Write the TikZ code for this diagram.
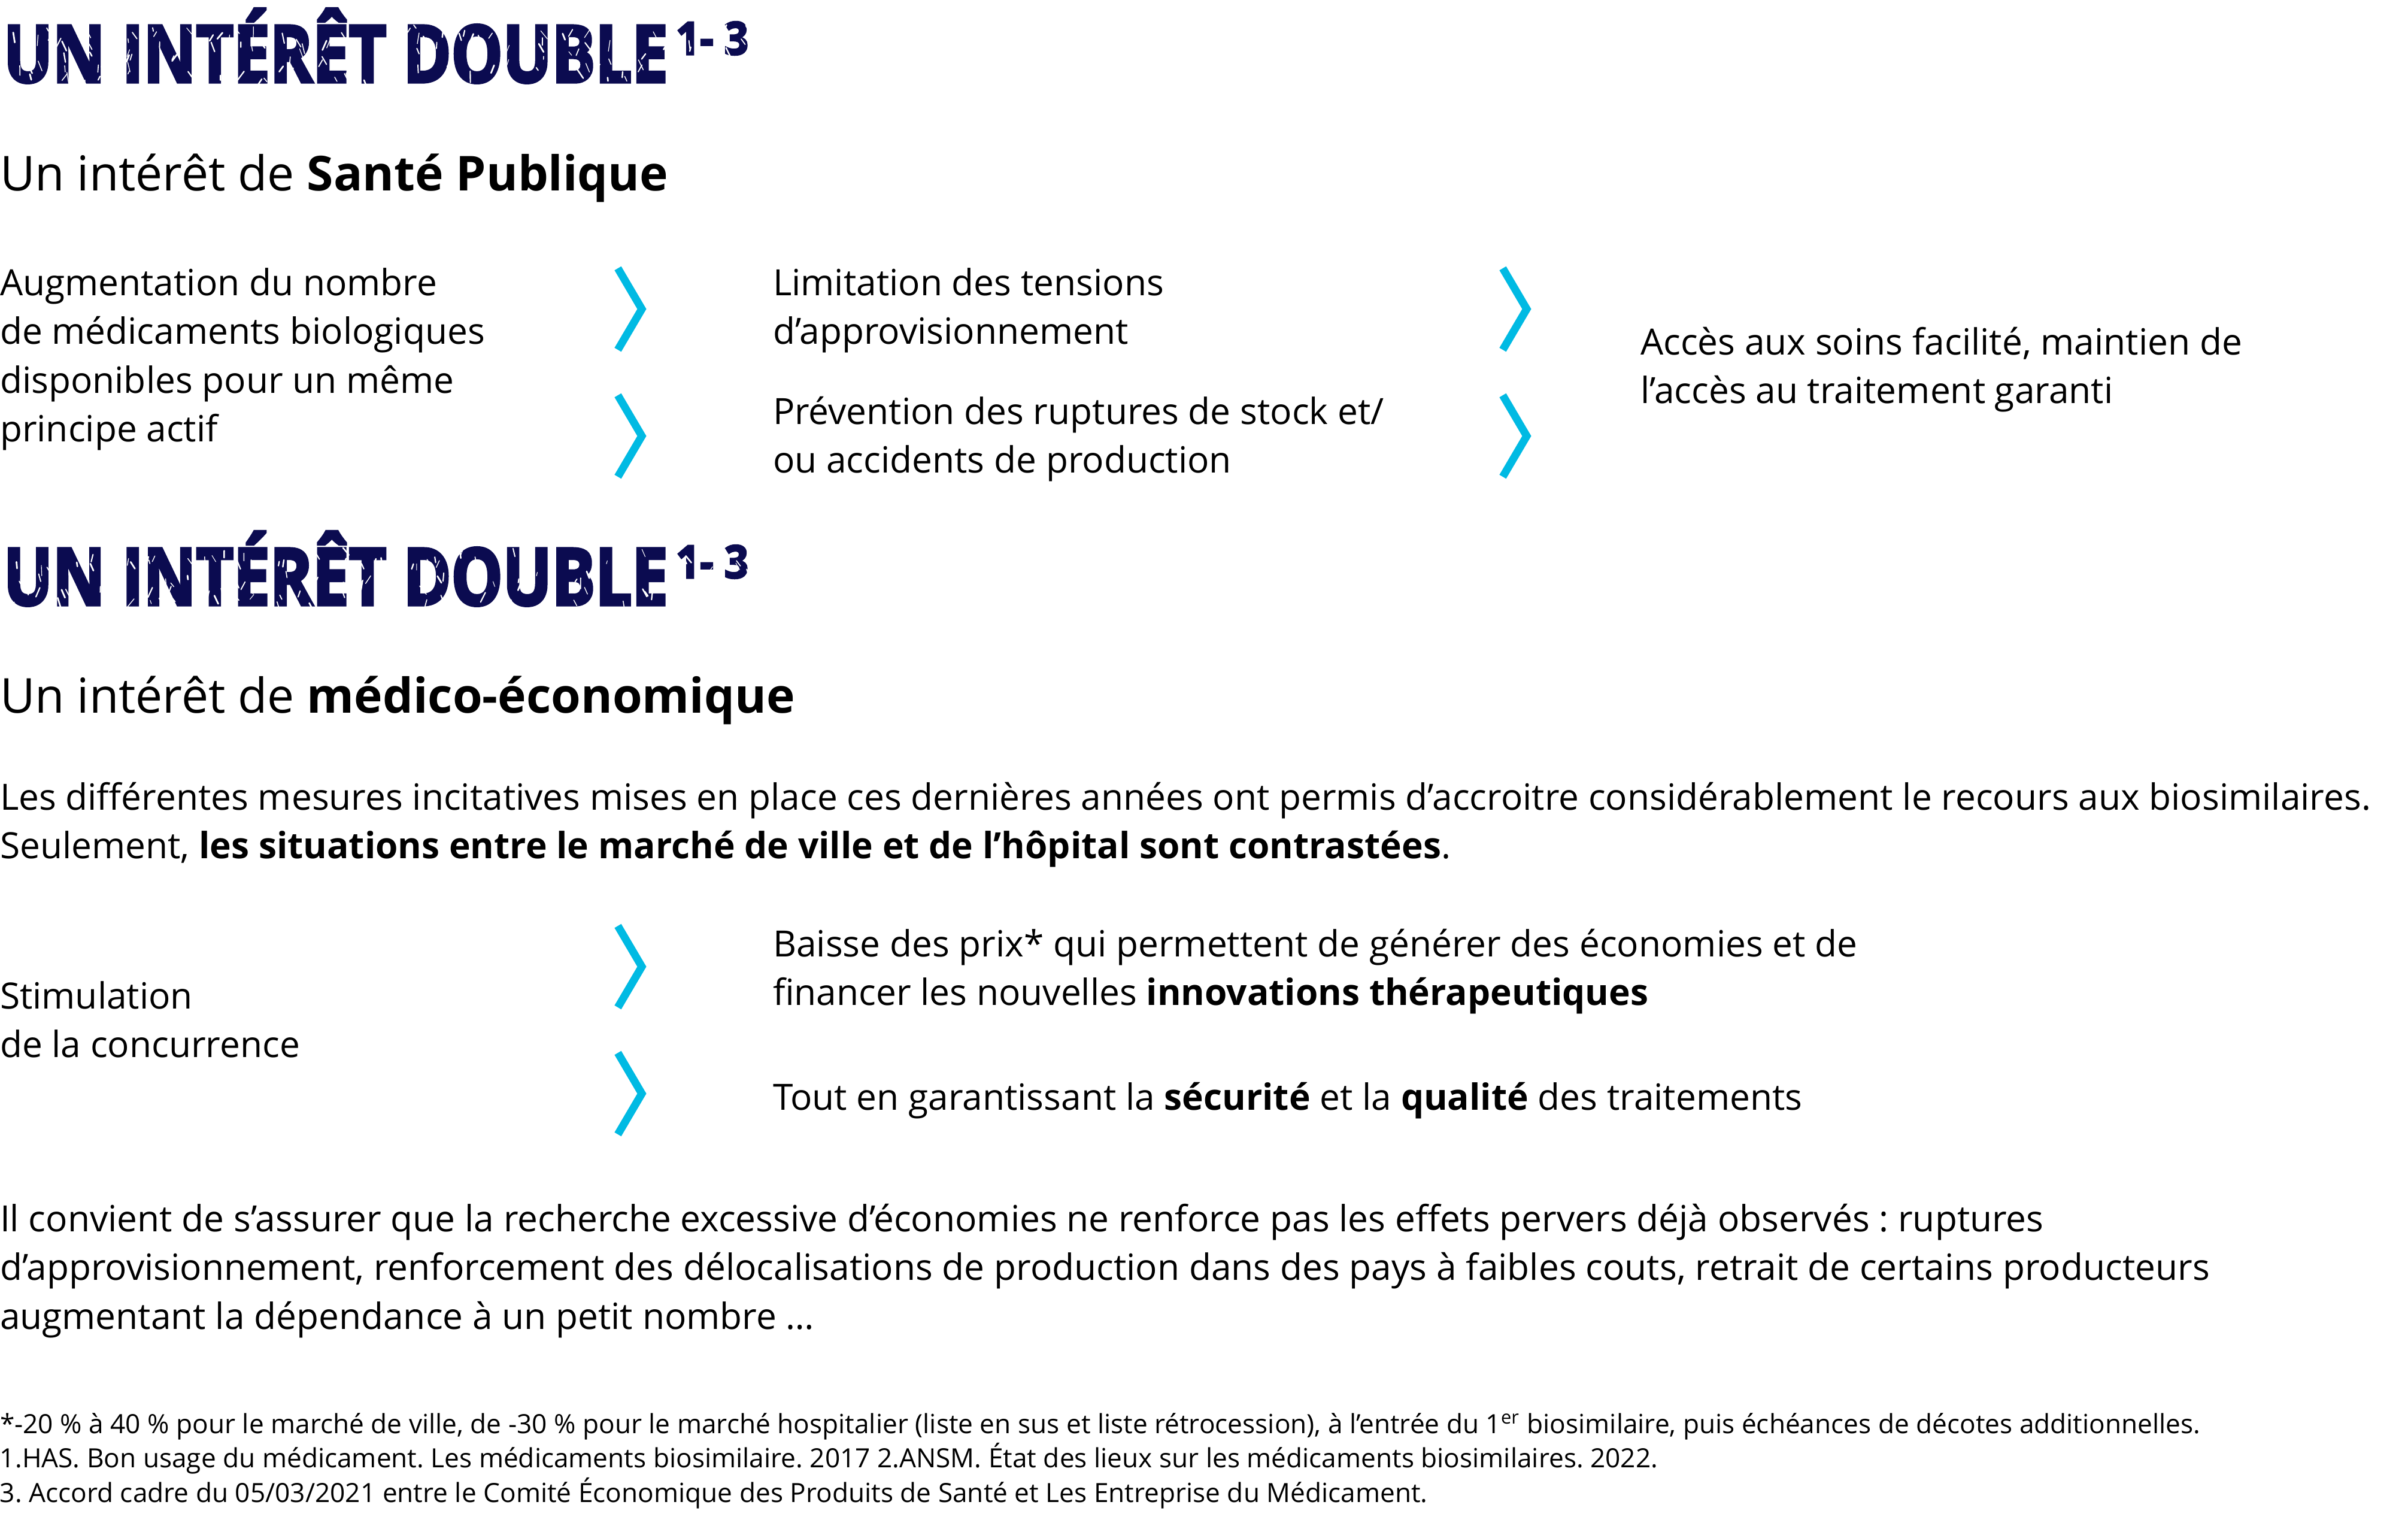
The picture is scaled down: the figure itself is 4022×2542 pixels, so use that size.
\documentclass[tikz,border=0pt]{standalone}
\usepackage{fontspec}
\setmainfont{Open Sans}
\newfontfamily\titlefont{Open Sans}[BoldFeatures={FakeBold=4}]
\frenchspacing
\definecolor{navy}{HTML}{0B0B50}
\definecolor{chev}{HTML}{00BAE3}
\newcommand\lines[1]{\begin{tabular}[t]{@{}l@{}}#1\end{tabular}}
\tikzset{
  txt/.style={anchor=base west, inner sep=0pt, outer sep=0pt},
  body/.style={txt, font=\fontsize{15.1pt}{20.375pt}\selectfont},
  head/.style={txt, font=\fontsize{20.1pt}{24pt}\selectfont},
  foot/.style={txt, font=\fontsize{11.05pt}{13.875pt}\selectfont},
  chevron/.style={draw=chev, line width=3.25pt, line cap=butt, line join=miter},
  scratch/.style={draw=white, line cap=round},
  bigtitle/.style={anchor=base west, inner sep=0pt, outer sep=0pt, text=navy, font=\titlefont\bfseries\fontsize{32.9pt}{36pt}\selectfont},
  suptitle/.style={anchor=base west, inner sep=0pt, outer sep=0pt, text=navy, font=\titlefont\bfseries\fontsize{18.9pt}{20pt}\selectfont}
}
\newcommand\chevat[2]{\draw[chevron] ({#1-40},{#2-68}) -- (#1,#2) -- ({#1-40},{#2+68});}
% worn texture: short white scratches over a title band (top y given)
\newcommand\wornband[2]{%
  \pgfmathsetseed{#2}%
  \begin{scope}
    \clip (0,{#1-10}) rectangle (1270,{#1+100});
    \foreach \i in {1,...,160}{%
      \pgfmathsetmacro\px{8+1240*rnd}%
      \pgfmathsetmacro\py{#1+95*rnd}%
      \pgfmathsetmacro\ang{50+80*rnd}%
      \pgfmathsetmacro\len{5+14*rnd}%
      \pgfmathsetmacro\lw{0.25+0.45*rnd}%
      \draw[scratch, line width=\lw pt] (\px,\py) -- ++(\ang:\len);
    }
  \end{scope}}
\begin{document}
\begin{tikzpicture}[x=0.25pt, y=-0.25pt]
\useasboundingbox (0,0) rectangle (4022,2542);
% ---------- Section 1 ----------
\node[bigtitle] (t1) at (6,137) {\resizebox{277.5pt}{\height}{UN INTÉRÊT DOUBLE}};
\node[suptitle] (s1) at (1129,91) {\resizebox{30.25pt}{\height}{1- 3}};
\wornband{40}{7}
\node[head] (h1) at (0,318) {Un intérêt de \textbf{Santé Publique}};
\node[body] (a1) at (0,493) {\lines{Augmentation du nombre\\de médicaments biologiques\\disponibles pour un même\\principe actif}};
\node[body] (b1) at (1291,493) {\lines{Limitation des tensions\\d’approvisionnement}};
\node[body] (b2) at (1291,708) {\lines{Prévention des ruptures de stock et/\\ou accidents de production}};
\node[body] (c1) at (2740,592) {\lines{Accès aux soins facilité, maintien de\\l’accès au traitement garanti}};
\chevat{1072}{516}
\chevat{1072}{728}
\chevat{2550}{516}
\chevat{2550}{728}
% ---------- Section 2 ----------
\node[bigtitle] (t2) at (6,1010) {\resizebox{277.5pt}{\height}{UN INTÉRÊT DOUBLE}};
\node[suptitle] (s2) at (1129,965) {\resizebox{30.25pt}{\height}{1- 3}};
\wornband{913}{11}
\node[head] (h2) at (0,1190) {Un intérêt de \textbf{médico-économique}};
\node[body] (p1) at (0,1352) {\lines{Les différentes mesures incitatives mises en place ces dernières années ont permis d’accroitre considérablement le recours aux biosimilaires.\\Seulement, \textbf{les situations entre le marché de ville et de l’hôpital sont contrastées}.}};
\node[body] (d1) at (0,1684) {\lines{Stimulation\\de la concurrence}};
\node[body] (e1) at (1291,1597) {\lines{Baisse des prix* qui permettent de générer des économies et de\\financer les nouvelles \textbf{innovations thérapeutiques}}};
\node[body] (e2) at (1291,1853) {Tout en garantissant la \textbf{sécurité} et la \textbf{qualité} des traitements};
\chevat{1072}{1614}
\chevat{1072}{1826}
\node[body] (p2) at (0,2056) {\lines{Il convient de s’assurer que la recherche excessive d’économies ne renforce pas les effets pervers déjà observés : ruptures\\d’approvisionnement, renforcement des délocalisations de production dans des pays à faibles couts, retrait de certains producteurs\\augmentant la dépendance à un petit nombre …}};
\node[foot] (f1) at (0,2393) {\lines{*-20 \% à 40 \% pour le marché de ville, de -30 \% pour le marché hospitalier (liste en sus et liste rétrocession), à l’entrée du 1\textsuperscript{er} biosimilaire, puis échéances de décotes additionnelles.\\1.HAS. Bon usage du médicament. Les médicaments biosimilaire. 2017 2.ANSM. État des lieux sur les médicaments biosimilaires. 2022.\\3. Accord cadre du 05/03/2021 entre le Comité Économique des Produits de Santé et Les Entreprise du Médicament.}};
\end{tikzpicture}
\end{document}
